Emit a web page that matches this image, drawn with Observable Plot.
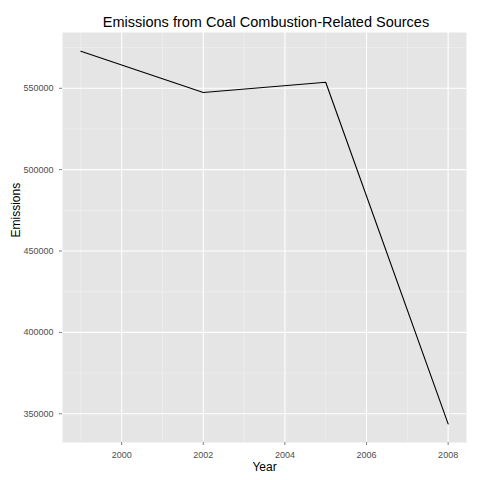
<!DOCTYPE html>
<html><head>
<script src="https://cdn.jsdelivr.net/npm/d3@7"></script>
<script src="https://cdn.jsdelivr.net/npm/@observablehq/plot@0.6"></script>
<style>
body{margin:0;background:#fff;font-family:"Liberation Sans",Arial,sans-serif;}
#title{height:32px;line-height:32px;text-align:center;font-size:14.5px;padding-left:52px;padding-top:6px;box-sizing:border-box;}
</style>
</head><body>
<div id="title">Emissions from Coal Combustion-Related Sources</div>
<div id="chart"></div>
<script>
const years = [1999, 2002, 2005, 2008];
const emissions = [572800, 547400, 553700, 343800];
const xMajor = [2000, 2002, 2004, 2006, 2008];
const xMinor = [1999, 2001, 2003, 2005, 2007];
const yMajor = [350000, 400000, 450000, 500000, 550000];
const yMinor = [375000, 425000, 475000, 525000, 575000];
const data = years.map((y, i) => ({year: y, value: emissions[i]}));
const chart = Plot.plot({
  width: 480, height: 448,
  marginTop: 0, marginBottom: 38, marginLeft: 62, marginRight: 14,
  style: {fontFamily: "Liberation Sans, Arial, sans-serif", fontSize: "9px", color: "#4D4D4D"},
  x: {domain: [1998.55, 2008.45], ticks: xMajor, tickFormat: d => String(d), label: null, tickSize: 3},
  y: {domain: [332350, 584290], ticks: yMajor, tickFormat: d => String(d), label: null, tickSize: 3},
  marks: [
    Plot.frame({fill: "#E5E5E5", stroke: null}),
    Plot.ruleX(xMinor, {stroke: "#F2F2F2", strokeWidth: 0.6}),
    Plot.ruleY(yMinor, {stroke: "#F2F2F2", strokeWidth: 0.6}),
    Plot.ruleX(xMajor, {stroke: "white", strokeWidth: 1.1}),
    Plot.ruleY(yMajor, {stroke: "white", strokeWidth: 1.1}),
    Plot.axisX({ticks: xMajor, tickFormat: d => String(d), label: null, tickSize: 3, stroke: "#7F7F7F"}),
    Plot.axisY({ticks: yMajor, tickFormat: d => String(d), label: null, tickSize: 3, stroke: "#7F7F7F"}),
    Plot.lineY(data, {x: "year", y: "value", stroke: "black", strokeWidth: 1.1}),
    Plot.text(["Year"], {frameAnchor: "bottom", dy: 28, fontSize: 12, fill: "black"}),
    Plot.text(["Emissions"], {frameAnchor: "left", dx: -46, rotate: -90, fontSize: 12, fill: "black"})
  ]
});
document.getElementById("chart").appendChild(chart);
</script>
</body></html>
